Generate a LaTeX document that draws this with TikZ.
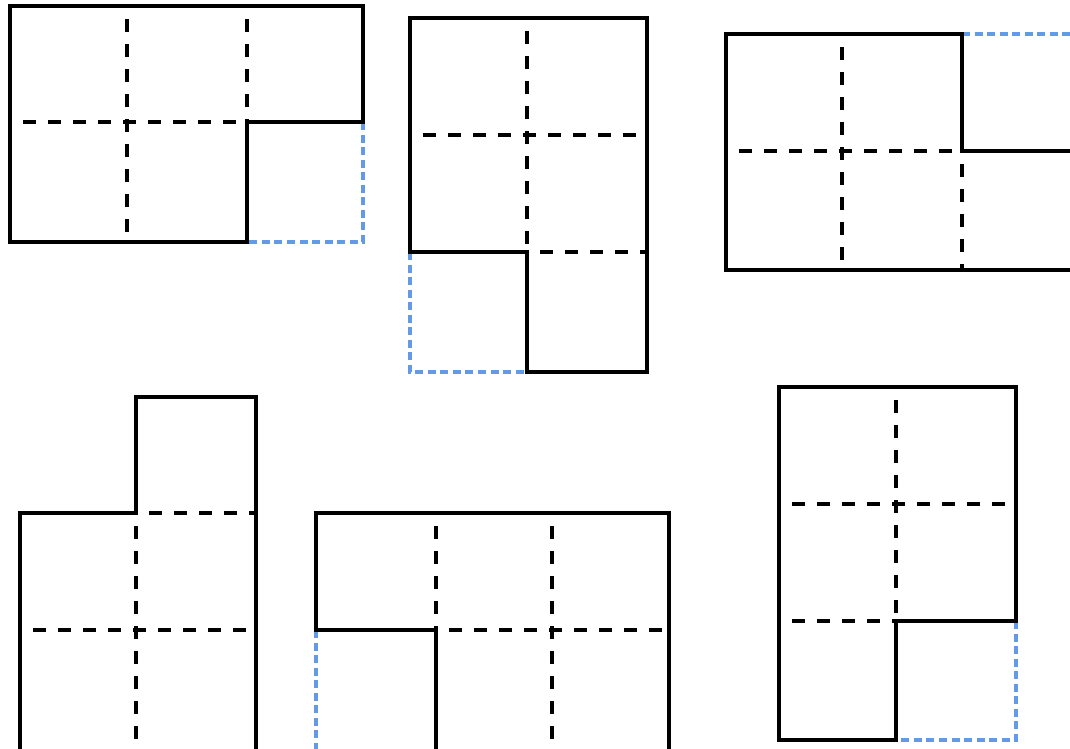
\documentclass[tikz,border=0pt]{standalone}
\definecolor{missblue}{RGB}{100,153,230}
\tikzset{
  wall/.style={draw=black,line width=2.4pt,line join=miter},
  gridline/.style={draw=black,line width=2.5pt,dash pattern=on 9.75pt off 9pt,dash phase=9pt},
  missing/.style={draw=missblue,line width=2.5pt,dash pattern=on 6pt off 3.4pt},
}
\begin{document}
\begin{tikzpicture}[x=0.75pt,y=-0.75pt]
\useasboundingbox (0,0) rectangle (1070,749);
\clip (0,0) rectangle (1070,749);

% ---------- Shape 1 ----------
\draw[missing] (363,122) -- (363,242) -- (247,242);
\draw[gridline] (127,6) -- (127,242);
\draw[gridline] (247,6) -- (247,122);
\draw[gridline] (10,122) -- (247,122);
\draw[wall] (10,6) -- (363,6) -- (363,122) -- (247,122) -- (247,242) -- (10,242) -- cycle;

% ---------- Shape 2 ----------
\draw[missing] (410,252) -- (410,372) -- (527,372);
\draw[gridline] (527,18) -- (527,252);
\draw[gridline] (410,135) -- (647,135);
\draw[gridline] (527,252) -- (647,252);
\draw[wall] (410,18) -- (647,18) -- (647,372) -- (527,372) -- (527,252) -- (410,252) -- cycle;

% ---------- Shape 3 ----------
\draw[missing] (962,34) -- (1080,34) -- (1080,151);
\draw[gridline] (842,34) -- (842,270);
\draw[gridline] (962,151) -- (962,270);
\draw[gridline] (726,151) -- (962,151);
\draw[wall] (1080,151) -- (962,151) -- (962,34) -- (726,34) -- (726,270) -- (1080,270) -- cycle;

% ---------- Shape 4 ----------
\draw[gridline] (136,513) -- (256,513);
\draw[gridline] (20,630) -- (256,630);
\draw[gridline] (136,513) -- (136,752);
\draw[wall] (136,513) -- (136,397) -- (256,397) -- (256,752) -- (20,752) -- (20,513) -- cycle;

% ---------- Shape 5 ----------
\draw[missing] (316,630) -- (316,752) -- (436,752);
\draw[gridline] (436,513) -- (436,630);
\draw[gridline] (552,513) -- (552,752);
\draw[gridline] (436,630) -- (669,630);
\draw[wall] (316,630) -- (316,513) -- (669,513) -- (669,752) -- (436,752) -- (436,630) -- cycle;

% ---------- Shape 6 ----------
\draw[missing] (1016,621) -- (1016,740) -- (896,740);
\draw[gridline] (896,387) -- (896,621);
\draw[gridline] (779,504) -- (1016,504);
\draw[gridline] (779,621) -- (896,621);
\draw[wall] (779,387) -- (1016,387) -- (1016,621) -- (896,621) -- (896,740) -- (779,740) -- cycle;
\end{tikzpicture}
\end{document}
